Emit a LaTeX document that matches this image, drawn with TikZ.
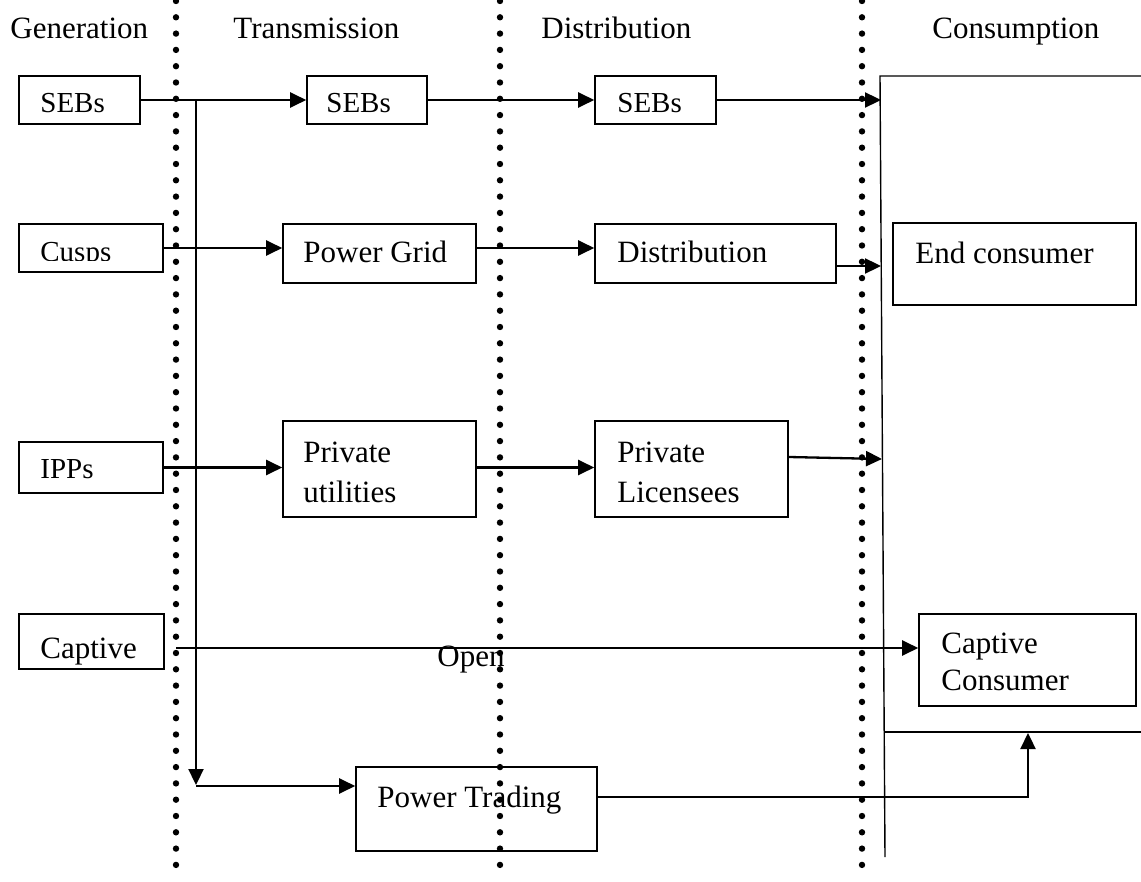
\documentclass[tikz,border=0pt]{standalone}
\usepackage{fontspec}
\setmainfont{Liberation Serif}
\usetikzlibrary{arrows.meta,fit,calc}

\begin{document}
\begin{tikzpicture}[x=0.5pt, y=-0.5pt]
    % Styles
    \tikzstyle{box} = [rectangle, draw, line width=0.8pt, inner sep=0pt]
    \tikzstyle{lbl} = [anchor=base west, inner sep=0pt, align=left, font=\fontsize{15.5}{20}\selectfont]
    \tikzstyle{small} = [lbl, font=\fontsize{14.5}{18}\selectfont]
    \tikzstyle{arrow} = [line width=1.15pt, -{Triangle[length=8pt, width=7.5pt]}]
    \tikzstyle{frame} = [line width=0.7pt]
    \tikzstyle{dotline} = [line width=3.2pt, line cap=round, dash pattern=on 0pt off 8.15pt]

    \useasboundingbox (0,0) rectangle (1141,882);

    % Dotted separators
    \foreach \x in {176,500,862}
        \draw [dotline] (\x,1) -- (\x,880);

    % Column headings
    \node [lbl] (hgen) at (10,39) {Generation};
    \node [lbl] (htrans) at (233,39) {Transmission};
    \node [lbl] (hdist) at (541,39) {Distribution};
    \node [lbl] (hcons) at (932,39) {Consumption};

    % Boxes
    \node [box, fit={(19,76) (140,124)}] (sebg) {};
    \node [box, fit={(307,76) (427,124)}] (sebt) {};
    \node [box, fit={(595,76) (716,124)}] (sebd) {};
    \node [box, fit={(19,224) (163,272)}] (cusps) {};
    \node [box, fit={(283,224) (476,283)}] (grid) {};
    \node [box, fit={(595,224) (836,283)}] (dist) {};
    \node [box, fit={(893,223) (1136,305)}] (endc) {};
    \node [box, fit={(19,442) (163,493)}] (ipps) {};
    \node [box, fit={(283,421) (476,517)}] (putil) {};
    \node [box, fit={(595,421) (788,517)}] (plic) {};
    \node [box, fit={(19,614) (164,669)}] (capg) {};
    \node [box, fit={(919,614) (1136,706)}] (capc) {};
    \node [box, fit={(356,767) (597,851)}] (trade) {};

    % Texts (multi-line ones sit on their last baseline)
    \node [small] (tsebg) at (40,113) {SEBs};
    \node [small] (tsebt) at (326,113) {SEBs};
    \node [small] (tsebd) at (617,113) {SEBs};
    \begin{scope}
        \clip (19,224) rectangle (163,261);
        \node [small] (tcusps) at (40,262) {Cusps};
    \end{scope}
    \node [lbl] (tgrid) at (303,263) {Power Grid};
    \node [lbl] (tdist) at (617,263) {Distribution};
    \node [lbl] (tendc) at (915,264) {End consumer};
    \node [small] (tipps) at (40,478) {IPPs};
    \node [lbl] (tputil) at (303,502) {Private\\utilities};
    \node [lbl] (tplic) at (617,502) {Private\\Licensees};
    \node [lbl] (tcapg) at (40,658) {Captive};
    \node [lbl] (topen) at (437,666) {Open};
    \node [lbl, font=\fontsize{15.5}{18.5}\selectfont] (tcapc) at (941,690) {Captive\\Consumer};
    \node [lbl] (ttrade) at (377,807) {Power Trading};

    % Consumption frame
    \coordinate (ftop) at (880,76);
    \coordinate (fbot) at (885,857);
    \draw [frame] (1141,76) -- (ftop) -- (fbot);
    \draw [frame] (884,732) -- (1141,732);

    % Helper points
    \coordinate (fin) at (881,0);
    \coordinate (split) at (196,100);
    \coordinate (turn) at (196,786);
    \coordinate (capstart) at (176,648);
    \coordinate (plend) at (882,459);
    \coordinate (up) at (1028,733);

    % Arrows
    \draw [arrow] (sebg) -- (sebt);
    \draw [arrow] (sebt) -- (sebd);
    \draw [arrow] (sebd) -- (sebd -| fin);
    \draw [arrow] (cusps.east) -- (cusps.east -| grid.west);
    \draw [arrow] (cusps.east -| grid.east) -- (cusps.east -| dist.west);
    \draw [arrow] ([yshift=-6.25pt]dist.east) -- ([yshift=-6.25pt]dist.east -| fin);
    \draw [arrow] (ipps.east) -- (ipps.east -| putil.west);
    \draw [arrow] (ipps.east -| putil.east) -- (ipps.east -| plic.west);
    \draw [arrow] ([yshift=6pt]plic.east) -- (plend);
    \draw [arrow] (capstart) -- (capstart -| capc.west);
    \draw [arrow] (split) -- ([yshift=0.5pt]turn);
    \draw [arrow] (turn) -- (turn -| trade.west);
    \draw [arrow] ([yshift=6pt]trade.east) -| (up);
\end{tikzpicture}
\end{document}
